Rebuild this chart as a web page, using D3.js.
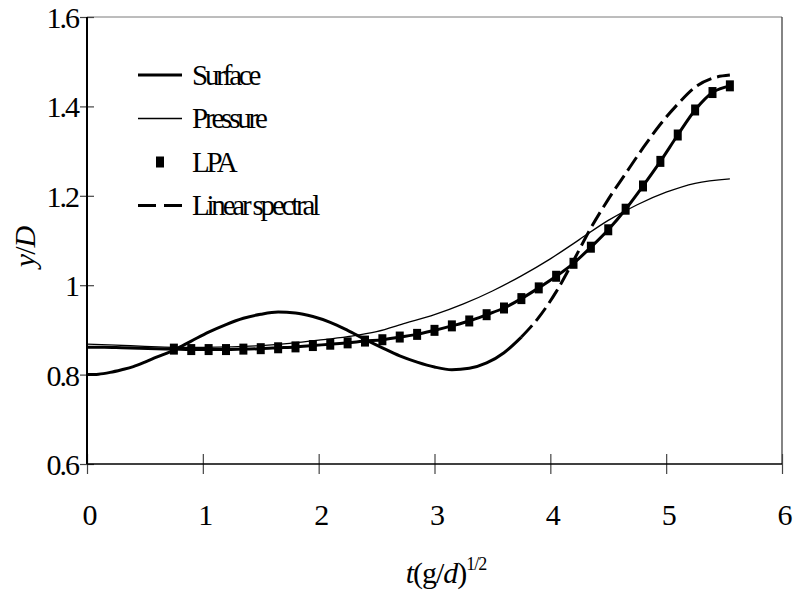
<!DOCTYPE html>
<html>
<head>
<meta charset="utf-8">
<script src="https://cdn.jsdelivr.net/npm/d3@7"></script>
</head>
<body style="margin:0">
<svg id="chart" width="795" height="597" font-family="Liberation Serif"></svg>
<script>
// ---- data ----
const xTicks = [0, 1, 2, 3, 4, 5, 6];
const yTicks = [0.6, 0.8, 1.0, 1.2, 1.4, 1.6];
const yTickLabels = ["0.6", "0.8", "1", "1.2", "1.4", "1.6"];
const seriesNames = ["Surface", "Pressure", "LPA", "Linear spectral"];

// Surface (thick solid)
const surfaceT = [0, 0.15, 0.3, 0.45, 0.6, 0.75, 0.9, 1.05, 1.2, 1.35, 1.5, 1.65, 1.8, 1.95, 2.1, 2.25, 2.4, 2.55, 2.7, 2.85, 3.0, 3.15, 3.3, 3.45, 3.6, 3.75, 3.9, 4.05, 4.2, 4.35, 4.5, 4.65, 4.8, 4.95, 5.1, 5.25, 5.4, 5.55];
const surfaceV = [0.861, 0.861, 0.860, 0.859, 0.858, 0.857, 0.856, 0.856, 0.856, 0.857, 0.858, 0.860, 0.862, 0.865, 0.868, 0.871, 0.875, 0.878, 0.884, 0.890, 0.899, 0.909, 0.920, 0.934, 0.949, 0.970, 0.994, 1.020, 1.049, 1.085, 1.124, 1.170, 1.222, 1.277, 1.336, 1.392, 1.431, 1.446];

// Pressure (thin solid)
const pressureT = [0, 0.25, 0.5, 0.75, 1.0, 1.25, 1.5, 1.75, 2.0, 2.25, 2.5, 2.75, 3.0, 3.25, 3.5, 3.75, 4.0, 4.25, 4.5, 4.75, 5.0, 5.25, 5.55];
const pressureV = [0.868, 0.866, 0.863, 0.861, 0.861, 0.862, 0.865, 0.870, 0.877, 0.885, 0.896, 0.915, 0.934, 0.958, 0.987, 1.021, 1.059, 1.102, 1.145, 1.180, 1.208, 1.228, 1.238];

// LPA (square markers)
const lpaT = [0.75, 0.9, 1.05, 1.2, 1.35, 1.5, 1.65, 1.8, 1.95, 2.1, 2.25, 2.4, 2.55, 2.7, 2.85, 3.0, 3.15, 3.3, 3.45, 3.6, 3.75, 3.9, 4.05, 4.2, 4.35, 4.5, 4.65, 4.8, 4.95, 5.1, 5.25, 5.4, 5.55];
const lpaV = [0.857, 0.856, 0.856, 0.856, 0.857, 0.858, 0.860, 0.862, 0.865, 0.868, 0.871, 0.875, 0.878, 0.884, 0.890, 0.899, 0.909, 0.920, 0.934, 0.949, 0.970, 0.994, 1.020, 1.049, 1.085, 1.124, 1.170, 1.222, 1.277, 1.336, 1.392, 1.431, 1.446];

// Linear spectral (thick dashed)
const spectralT = [0, 0.1, 0.2, 0.3, 0.4, 0.5, 0.6, 0.75, 0.9, 1.05, 1.2, 1.35, 1.5, 1.65, 1.8, 1.95, 2.1, 2.25, 2.4, 2.55, 2.7, 2.85, 3.0, 3.15, 3.3, 3.45, 3.6, 3.75, 3.9, 4.05, 4.2, 4.35, 4.5, 4.65, 4.8, 4.95, 5.1, 5.25, 5.4, 5.55];
const spectralV = [0.800, 0.801, 0.805, 0.811, 0.818, 0.828, 0.839, 0.855, 0.875, 0.895, 0.912, 0.926, 0.935, 0.940, 0.938, 0.930, 0.917, 0.899, 0.879, 0.860, 0.842, 0.828, 0.817, 0.811, 0.814, 0.826, 0.849, 0.884, 0.928, 0.985, 1.055, 1.128, 1.192, 1.250, 1.307, 1.360, 1.405, 1.443, 1.463, 1.470];
// densely sampled (appears solid) up to this abscissa
const spectralDenseUntil = 3.75;

// ---- layout ----
const FONT = "Liberation Serif";
const svg = d3.select("#chart");
const L = 87, R = 782, T = 17, B = 464;
const x = d3.scaleLinear().domain([0, 6]).range([L, R]);
const y = d3.scaleLinear().domain([0.6, 1.6]).range([B, T]);

const zip = (ts, vs) => ts.map((t, i) => ({ t, v: vs[i] }));
const surface = zip(surfaceT, surfaceV);
const pressure = zip(pressureT, pressureV);
const lpa = zip(lpaT, lpaV);
const spectral = zip(spectralT, spectralV);

const line = d3.line().x(d => x(d.t)).y(d => y(d.v)).curve(d3.curveMonotoneX);

function txt(sel, size, ls) {
  return sel.attr("font-family", FONT).attr("font-size", size)
    .attr("letter-spacing", ls).attr("fill", "#000")
    .attr("style", `font-family: "${FONT}"; font-size: ${size}px; letter-spacing: ${ls}px`);
}

// frame (top and right)
svg.append("line").attr("x1", L).attr("x2", R).attr("y1", T).attr("y2", T)
  .attr("stroke", "#7a7a7a").attr("stroke-width", 1);
svg.append("line").attr("x1", R).attr("x2", R).attr("y1", T).attr("y2", B)
  .attr("stroke", "#333").attr("stroke-width", 1.2);

// x axis ticks (crossing)
const gxTicks = svg.append("g").attr("transform", `translate(0,${B - 10})`)
  .call(d3.axisBottom(x).tickValues(xTicks).tickSize(20).tickFormat(""));
gxTicks.select(".domain").remove();
gxTicks.selectAll(".tick line").attr("stroke", "#444").attr("stroke-width", 1.2);

// x axis labels
const gxLab = svg.append("g").attr("transform", `translate(0,${B})`)
  .call(d3.axisBottom(x).tickValues(xTicks).tickSize(0).tickPadding(0).tickFormat(d3.format("d")));
gxLab.attr("font-family", FONT);
gxLab.select(".domain").remove();
txt(gxLab.selectAll(".tick text"), 30, -1).attr("dx", 2).attr("dy", 0).attr("y", 61);

// y axis ticks (crossing)
const gyTicks = svg.append("g").attr("transform", `translate(${L + 7},0)`)
  .call(d3.axisLeft(y).tickValues(yTicks).tickSize(14).tickFormat(""));
gyTicks.select(".domain").remove();
gyTicks.selectAll(".tick line").attr("stroke", "#444").attr("stroke-width", 1.2);

// y axis labels
const gyLab = svg.append("g").attr("transform", `translate(${L},0)`)
  .call(d3.axisLeft(y).tickValues(yTicks).tickSize(0).tickPadding(9)
    .tickFormat((d, i) => yTickLabels[i]));
gyLab.attr("font-family", FONT);
gyLab.select(".domain").remove();
txt(gyLab.selectAll(".tick text"), 30, -2).attr("dy", "0.35em");

// axis lines
svg.append("line").attr("x1", L).attr("x2", R).attr("y1", B).attr("y2", B)
  .attr("stroke", "#000").attr("stroke-width", 1.5);
svg.append("line").attr("x1", L).attr("x2", L).attr("y1", T).attr("y2", B)
  .attr("stroke", "#000").attr("stroke-width", 2);

// ---- series ----
svg.append("path").datum(pressure).attr("d", line)
  .attr("fill", "none").attr("stroke", "#000").attr("stroke-width", 1.3);

svg.append("path").datum(spectral.filter(d => d.t <= spectralDenseUntil)).attr("d", line)
  .attr("fill", "none").attr("stroke", "#000").attr("stroke-width", 3);
svg.append("path").datum(spectral.filter(d => d.t >= spectralDenseUntil)).attr("d", line)
  .attr("fill", "none").attr("stroke", "#000").attr("stroke-width", 3)
  .attr("stroke-dasharray", "16,6");

svg.append("path").datum(surface).attr("d", line)
  .attr("fill", "none").attr("stroke", "#000").attr("stroke-width", 3);

const mw = 8, mh = 11;
svg.append("g").selectAll("rect").data(lpa).join("rect")
  .attr("x", d => x(d.t) - mw / 2).attr("y", d => y(d.v) - mh / 2)
  .attr("width", mw).attr("height", mh).attr("fill", "#000");

// ---- legend ----
const leg = svg.append("g").attr("transform", "translate(138,75)");
const rowH = 43.5;
seriesNames.forEach((name, i) => {
  const g = leg.append("g").attr("transform", `translate(0,${i * rowH})`);
  if (name === "Surface") {
    g.append("line").attr("x1", 0).attr("x2", 44).attr("stroke", "#000").attr("stroke-width", 3);
  } else if (name === "Pressure") {
    g.append("line").attr("x1", 0).attr("x2", 44).attr("stroke", "#000").attr("stroke-width", 1.3);
  } else if (name === "LPA") {
    g.append("rect").attr("x", 22 - mw / 2).attr("y", -mh / 2).attr("width", mw).attr("height", mh).attr("fill", "#000");
  } else {
    g.append("line").attr("x1", 0).attr("x2", 44).attr("stroke", "#000").attr("stroke-width", 3)
      .attr("stroke-dasharray", "18,8");
  }
  txt(g.append("text"), 29, -3.2).attr("x", 54).attr("y", 0).attr("dy", "0.33em").text(name);
});

// ---- axis titles ----
const xt = txt(svg.append("text"), 30, -1).attr("x", 446).attr("y", 583).attr("text-anchor", "middle");
xt.append("tspan").attr("font-style", "italic").text("t");
xt.append("tspan").text("(g/");
xt.append("tspan").attr("font-style", "italic").text("d");
xt.append("tspan").text(")");
xt.append("tspan").attr("font-size", 18).attr("style", "font-size: 18px").attr("dy", -13).text("1/2");

const yt = txt(svg.append("text"), 30, -1).attr("transform", "translate(35,247) rotate(-90)")
  .attr("text-anchor", "middle");
yt.append("tspan").attr("font-style", "italic").text("y");
yt.append("tspan").text("/");
yt.append("tspan").attr("font-style", "italic").text("D");
</script>
</body>
</html>
